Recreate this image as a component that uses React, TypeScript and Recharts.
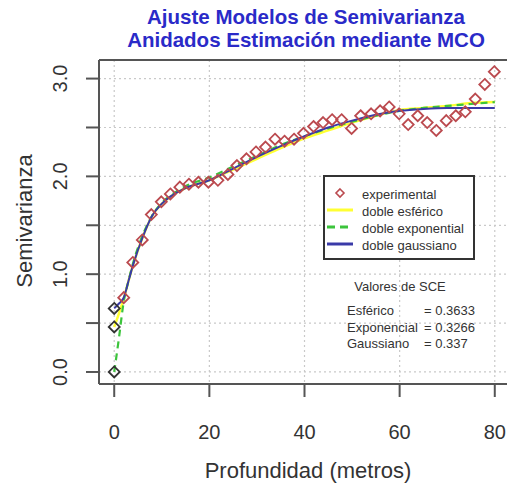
import React from "react";
import {
  ComposedChart,
  XAxis,
  YAxis,
  CartesianGrid,
  Line,
  Scatter,
  ReferenceLine,
} from "recharts";

// experimental semivariogram (lag in metres, semivariance)
const LAGS = [
  2, 3.9, 5.9, 7.8, 9.9, 11.8, 13.8, 15.7, 17.7, 19.8, 21.8, 23.9, 25.8, 27.8,
  29.8, 31.8, 33.8, 35.8, 37.8, 39.8, 41.9, 43.9, 45.8, 47.8, 49.9, 51.8, 54,
  55.9, 57.8, 59.9, 61.8, 63.8, 65.8, 67.7, 69.8, 71.8, 73.8, 75.9, 77.9, 79.9,
];
const SEMIVAR = [
  0.76, 1.12, 1.35, 1.61, 1.74, 1.82, 1.89, 1.92, 1.94, 1.94, 1.96, 2.02, 2.11,
  2.18, 2.25, 2.3, 2.38, 2.36, 2.38, 2.44, 2.51, 2.55, 2.58, 2.58, 2.49, 2.62,
  2.64, 2.67, 2.71, 2.64, 2.53, 2.62, 2.55, 2.47, 2.57, 2.62, 2.66, 2.79, 2.94,
  3.07,
];

// model values at h = 0
const NUGGETS = [0.65, 0.46, 0.0];

// fitted nested models
const CURVE_X = [0, 1, 2, 3, 4, 6, 8, 10, 12, 15, 20, 25, 30, 35, 40, 45, 50, 55, 60, 65, 70, 75, 80];
const ESFERICO = [0.46, 0.6, 0.75, 0.93, 1.1, 1.38, 1.6, 1.72, 1.8, 1.88, 1.96, 2.07, 2.18, 2.29, 2.39, 2.47, 2.55, 2.62, 2.68, 2.7, 2.72, 2.75, 2.76];
const EXPONENCIAL = [0.0, 0.35, 0.72, 0.93, 1.12, 1.4, 1.6, 1.73, 1.81, 1.9, 1.99, 2.1, 2.21, 2.32, 2.41, 2.49, 2.56, 2.62, 2.67, 2.7, 2.72, 2.74, 2.76];
const GAUSSIANO = [0.65, 0.7, 0.76, 0.93, 1.1, 1.38, 1.6, 1.72, 1.8, 1.88, 1.96, 2.08, 2.2, 2.31, 2.41, 2.5, 2.57, 2.63, 2.67, 2.69, 2.7, 2.7, 2.7];

const X_TICKS = [0, 20, 40, 60, 80];
const Y_TICKS = [0, 0.5, 1, 1.5, 2, 2.5, 3];

const SCE_NAMES = ["Esférico", "Exponencial", "Gaussiano"];
const SCE_VALUES = ["0.3633", "0.3266", "0.337"];

const LEGEND_LABELS = ["experimental", "doble esférico", "doble exponential", "doble gaussiano"];

const FONT = "'Liberation Sans', Arial, sans-serif";
const RED = "#bb4a4f";
const YELLOW = "#ffff33";
const GREEN = "#3cc43c";
const BLUE = "#3a3aa8";
const AXIS = "#555";

const X_DOMAIN: [number, number] = [-3.2, 83.2];
const Y_DOMAIN: [number, number] = [-0.123, 3.19];

const expData = LAGS.map((x, i) => ({ x, y: SEMIVAR[i] }));
const nuggetData = NUGGETS.map((y) => ({ x: 0, y }));
const curve = (ys: number[]) => CURVE_X.map((x, i) => ({ x, y: ys[i] }));

const Diamond = (color: string, r: number) => (props: any) => {
  const { cx, cy } = props;
  if (cx == null || cy == null) return null;
  return (
    <path
      d={`M${cx},${cy - r}L${cx + r},${cy}L${cx},${cy + r}L${cx - r},${cy}Z`}
      fill="none"
      stroke={color}
      strokeWidth={1.8}
    />
  );
};

const XTick = (props: any) => {
  const { x, payload } = props;
  return (
    <text x={x} y={432} textAnchor="middle" dominantBaseline="central" fontSize={20} fill="#333" fontFamily={FONT}>
      {payload.value}
    </text>
  );
};

const YTick = (props: any) => {
  const { y, payload } = props;
  if (payload.value % 1 !== 0) return null;
  return (
    <text
      x={60}
      y={y}
      transform={`rotate(-90, 60, ${y})`}
      textAnchor="middle"
      dominantBaseline="central"
      fontSize={20}
      fill="#333"
      fontFamily={FONT}
    >
      {payload.value.toFixed(1)}
    </text>
  );
};

function LegendBox() {
  const rows = [
    <svg width={30} height={12}><path d="M15,2L19,6L15,10L11,6Z" fill="none" stroke={RED} strokeWidth={1.6} /></svg>,
    <svg width={30} height={12}><line x1={2} x2={28} y1={6} y2={6} stroke={YELLOW} strokeWidth={3} /></svg>,
    <svg width={30} height={12}><line x1={2} x2={28} y1={6} y2={6} stroke={GREEN} strokeWidth={3} strokeDasharray="8 5" /></svg>,
    <svg width={30} height={12}><line x1={2} x2={28} y1={6} y2={6} stroke={BLUE} strokeWidth={3} /></svg>,
  ];
  return (
    <div
      style={{
        position: "absolute",
        left: 323,
        top: 175,
        width: 152,
        height: 85,
        border: "2px solid #333",
        background: "#fff",
        fontFamily: FONT,
        fontSize: 13,
        color: "#333",
        boxSizing: "border-box",
        paddingTop: 9,
      }}
    >
      {LEGEND_LABELS.map((label, i) => (
        <div key={label} style={{ display: "flex", alignItems: "center", height: 17 }}>
          <div style={{ width: 37, paddingLeft: 0 }}>{rows[i]}</div>
          <span>{label}</span>
        </div>
      ))}
    </div>
  );
}

function SceBlock() {
  return (
    <div style={{ position: "absolute", left: 340, top: 279, width: 140, fontFamily: FONT, fontSize: 13, color: "#333" }}>
      <div style={{ textAlign: "center", marginLeft: -20, height: 24 }}>Valores de SCE</div>
      {SCE_NAMES.map((name, i) => (
        <div key={name} style={{ position: "relative", height: 16.5 }}>
          <span style={{ position: "absolute", left: 7 }}>{name}</span>
          <span style={{ position: "absolute", left: 84 }}>= {SCE_VALUES[i]}</span>
        </div>
      ))}
    </div>
  );
}

export default function App() {
  return (
    <div style={{ position: "absolute", left: 0, top: 0, width: 507, height: 487, overflow: "hidden", background: "#fff" }}>
      <div
        style={{
          position: "absolute",
          left: 0,
          width: 612,
          top: 5,
          textAlign: "center",
          fontFamily: FONT,
          fontWeight: "bold",
          fontSize: 20.5,
          lineHeight: "23px",
          color: "#2a2ac8",
        }}
      >
        Ajuste Modelos de Semivarianza
        <br />
        Anidados Estimación mediante MCO
      </div>
      <div style={{ position: "absolute", top: 0, left: 0 }}>
        <ComposedChart width={510} height={487} margin={{ top: 60, right: 0, bottom: 43, left: 0 }}>
          <CartesianGrid stroke="#c9c9c9" strokeDasharray="2 3" strokeWidth={1.2} />
          <XAxis
            type="number"
            dataKey="x"
            domain={X_DOMAIN}
            ticks={X_TICKS}
            allowDataOverflow
            height={60}
            tickSize={13}
            tick={<XTick />}
            axisLine={{ stroke: AXIS, strokeWidth: 2 }}
            tickLine={{ stroke: AXIS, strokeWidth: 2 }}
          />
          <YAxis
            type="number"
            dataKey="y"
            domain={Y_DOMAIN}
            ticks={Y_TICKS}
            allowDataOverflow
            width={99}
            tickSize={13}
            tick={<YTick />}
            axisLine={{ stroke: AXIS, strokeWidth: 2 }}
            tickLine={{ stroke: AXIS, strokeWidth: 2 }}
          />
          <ReferenceLine y={Y_DOMAIN[1]} stroke={AXIS} strokeWidth={2} />
          <Scatter data={expData} dataKey="y" shape={Diamond(RED, 5.5)} isAnimationActive={false} />
          <Scatter data={nuggetData} dataKey="y" shape={Diamond("#333", 5.5)} isAnimationActive={false} />
          <Line data={curve(ESFERICO)} dataKey="y" type="monotone" stroke={YELLOW} strokeWidth={2.5} dot={false} isAnimationActive={false} />
          <Line data={curve(EXPONENCIAL)} dataKey="y" type="monotone" stroke={GREEN} strokeWidth={2.2} strokeDasharray="7 5" dot={false} isAnimationActive={false} />
          <Line data={curve(GAUSSIANO)} dataKey="y" type="monotone" stroke={BLUE} strokeWidth={2} dot={false} isAnimationActive={false} />
        </ComposedChart>
      </div>
      <LegendBox />
      <SceBlock />
      <div style={{ position: "absolute", top: 458, left: 100, width: 416, textAlign: "center", fontFamily: FONT, fontSize: 22, color: "#333" }}>
        Profundidad (metros)
      </div>
      <div
        style={{
          position: "absolute",
          left: 25,
          top: 221,
          transform: "translate(-50%, -50%) rotate(-90deg)",
          fontFamily: FONT,
          fontSize: 22,
          color: "#333",
          whiteSpace: "nowrap",
        }}
      >
        Semivarianza
      </div>
    </div>
  );
}
